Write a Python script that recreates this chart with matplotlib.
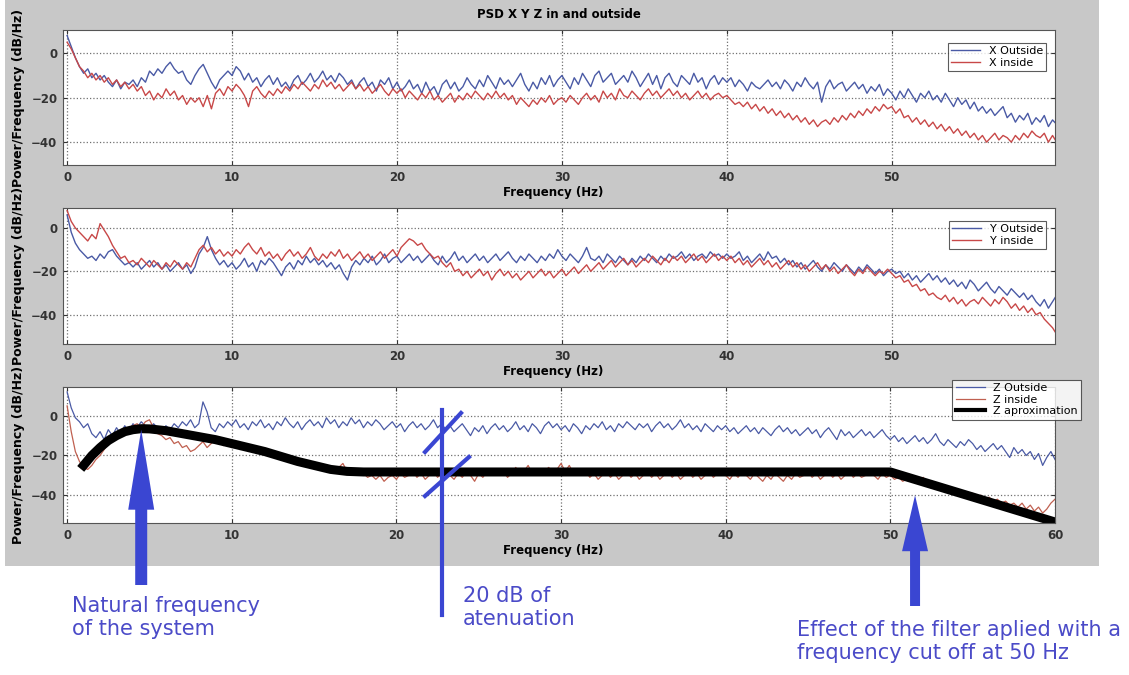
import numpy as np
import matplotlib.pyplot as plt
from matplotlib.patches import Rectangle, FancyArrow

# frequency grid of the PSD estimates (Hz)
freq = np.linspace(0, 60, 241)

x_outside = [
    8, 3, -2, -6, -9, -7, -11, -9, -12, -10, -13, -15, -12, -16, -13, -14, -12, -15, -11, -13,
    -8, -10, -7, -9, -6, -4, -7, -9, -8, -12, -14, -10, -7, -5, -9, -13, -16, -12, -10, -8,
    -10, -6, -8, -12, -9, -13, -11, -15, -12, -10, -14, -11, -15, -13, -16, -12, -10, -14, -12, -9,
    -13, -11, -8, -12, -10, -13, -9, -11, -14, -12, -16, -13, -11, -15, -13, -17, -12, -14, -11, -16,
    -13, -17, -15, -12, -16, -14, -18, -13, -17, -15, -19, -14, -12, -16, -13, -17, -15, -11, -14, -16,
    -12, -15, -10, -13, -16, -11, -14, -12, -15, -12, -9, -14, -17, -13, -16, -11, -14, -10, -15, -12,
    -10, -13, -16, -11, -14, -9, -12, -15, -10, -8, -13, -11, -9, -14, -12, -10, -13, -8, -11, -15,
    -12, -9, -14, -10, -16, -11, -9, -13, -15, -10, -12, -14, -9, -13, -11, -16, -12, -10, -14, -11,
    -13, -11, -15, -12, -14, -17, -13, -15, -16, -14, -12, -15, -13, -16, -12, -14, -17, -13, -15, -11,
    -14, -16, -13, -22, -15, -12, -16, -14, -13, -17, -15, -13, -16, -14, -18, -15, -17, -14, -19, -16,
    -18, -21, -17, -20, -16, -19, -22, -18, -20, -17, -21, -19, -22, -18, -21, -24, -20, -23, -21, -25,
    -22, -26, -24, -27, -25, -28, -26, -24, -29, -27, -31, -28, -30, -27, -32, -29, -31, -28, -33, -30,
    -32,
]
x_inside = [
    5, 2, -2, -6, -8, -11, -9, -12, -10, -13, -11, -14, -12, -15, -13, -16, -14, -17, -15, -19,
    -17, -21, -18, -20, -16, -19, -17, -21, -19, -23, -20, -22, -20, -24, -19, -25, -18, -16, -19, -15,
    -17, -14, -16, -19, -24, -17, -15, -18, -20, -17, -19, -16, -18, -15, -17, -14, -16, -13, -15, -17,
    -14, -16, -12, -15, -13, -16, -14, -17, -15, -13, -16, -14, -17, -15, -18, -16, -14, -17, -19, -16,
    -18, -16, -20, -17, -19, -21, -18, -20, -17, -21, -19, -22, -20, -18, -22, -19, -21, -18, -20, -17,
    -19, -21, -18, -20, -17, -20, -18, -21, -19, -23, -20, -22, -24, -21, -23, -20, -22, -19, -23, -21,
    -20, -22, -19, -21, -23, -20, -18, -21, -19, -22, -17, -20, -18, -21, -16, -19, -20, -17, -19, -21,
    -18, -16, -19, -17, -20, -18, -16, -19, -17, -20, -18, -21, -19, -17, -20, -18, -21, -19, -18, -20,
    -19, -21, -23, -22, -24, -22, -25, -23, -26, -24, -27, -25, -28, -26, -29, -27, -30, -28, -31, -29,
    -32, -30, -33, -31, -30, -32, -29, -31, -28, -30, -27, -29, -26, -28, -25, -27, -24, -26, -23, -25,
    -24, -27, -25, -29, -28, -31, -29, -32, -30, -33, -31, -34, -32, -35, -33, -36, -34, -37, -35, -38,
    -36, -39, -37, -40, -38, -36, -39, -37, -38, -40, -37, -39, -36, -38, -35, -37, -38, -36, -40, -37,
    -40,
]
y_outside = [
    6, -2, -7, -10, -12, -14, -13, -15, -12, -14, -11, -10, -13, -15, -17, -16, -18, -16, -19, -17,
    -15, -18, -16, -19, -17, -20, -18, -16, -19, -17, -21, -18, -12, -9, -4, -10, -14, -17, -15, -18,
    -16, -19, -17, -14, -18, -16, -20, -15, -17, -14, -16, -19, -22, -18, -16, -19, -15, -17, -13, -16,
    -14, -17, -15, -18, -16, -19, -17, -21, -24, -18, -15, -17, -14, -16, -13, -17, -15, -12, -16, -14,
    -13, -16, -14, -12, -15, -13, -16, -14, -12, -15, -17, -13, -16, -14, -11, -15, -13, -16, -14, -12,
    -15, -13, -16, -14, -12, -15, -13, -11, -14, -16, -13, -15, -12, -14, -16, -13, -15, -12, -14, -10,
    -13, -15, -12, -14, -16, -13, -9, -14, -15, -13, -16, -12, -14, -16, -13, -15, -17, -14, -16, -13,
    -15, -12, -14, -16, -13, -15, -12, -14, -13, -11, -14, -12, -15, -13, -12, -14, -11, -13, -12, -14,
    -12, -14, -13, -11, -15, -13, -16, -14, -12, -15, -11, -14, -13, -16, -14, -17, -15, -18, -16, -19,
    -17, -15, -18, -20, -17, -19, -16, -18, -20, -17, -19, -21, -18, -20, -17, -19, -21, -19, -22, -20,
    -19, -21, -20, -23, -21, -24, -22, -25, -23, -21, -24, -22, -25, -23, -26, -24, -27, -25, -28, -24,
    -26, -29, -27, -25, -28, -30, -27, -29, -31, -28, -30, -32, -30, -33, -31, -34, -36, -33, -37, -34,
    -31,
]
y_inside = [
    8, 3, 0, -2, -4, -6, -3, -5, 2, -1, -4, -8, -11, -14, -13, -16, -15, -17, -14, -16,
    -18, -15, -17, -19, -16, -18, -15, -17, -19, -16, -18, -14, -10, -8, -11, -9, -12, -10, -13, -11,
    -13, -10, -12, -9, -7, -10, -12, -9, -13, -11, -14, -12, -15, -12, -10, -13, -11, -14, -12, -9,
    -13, -15, -12, -14, -11, -13, -10, -14, -12, -15, -13, -11, -14, -12, -15, -13, -11, -14, -12, -10,
    -13, -9, -7, -5, -6, -8, -7, -10, -12, -14, -13, -16, -18, -16, -20, -19, -22, -20, -23, -21,
    -19, -22, -20, -24, -21, -19, -22, -20, -23, -21, -24, -22, -20, -23, -21, -19, -22, -20, -23, -21,
    -19, -22, -20, -18, -21, -19, -17, -20, -18, -16, -19, -17, -15, -18, -16, -14, -17, -15, -18, -16,
    -14, -16, -13, -15, -17, -14, -16, -13, -15, -13, -16, -14, -12, -15, -13, -16, -14, -12, -15, -13,
    -15, -13, -16, -14, -17, -15, -18, -16, -14, -17, -15, -18, -16, -19, -17, -15, -18, -16, -19, -17,
    -20, -18, -16, -19, -17, -20, -18, -21, -19, -17, -20, -22, -19, -21, -18, -20, -22, -20, -21, -19,
    -21, -23, -22, -25, -24, -27, -26, -29, -28, -31, -30, -32, -33, -31, -34, -32, -35, -33, -36, -34,
    -33, -35, -32, -34, -36, -33, -35, -32, -34, -37, -35, -38, -36, -39, -37, -40, -39, -42, -44, -46,
    -49,
]
z_outside = [
    12, 4, -1, -3, -6, -4, -9, -11, -8, -12, -7, -10, -6, -9, -5, -8, -4, -6, -3, -5,
    -7, -4, -6, -8, -5, -7, -4, -6, -3, -5, -2, -6, -4, 7, 2, -6, -8, -4, -6, -3,
    -5, -2, -6, -4, -7, -3, -5, -2, -6, -4, -7, -3, -5, -1, -4, -6, -3, -7, -4, -2,
    -5, -3, -6, -1, -4, -2, -6, -3, -5, -1, -4, -2, -6, -3, -5, -2, -4, -7, -5, -3,
    -6, -4, -8, -5, -3, -6, -4, -7, -5, -2, -6, -4, -7, -5, -8, -6, -4, -7, -10, -6,
    -8, -5, -9, -6, -4, -7, -5, -8, -6, -3, -7, -5, -8, -4, -6, -9, -5, -3, -6, -4,
    -7, -5, -8, -4, -6, -9, -5, -7, -4, -6, -3, -7, -5, -8, -4, -6, -3, -5, -7, -4,
    -6, -4, -8, -5, -3, -6, -4, -7, -5, -2, -6, -4, -7, -5, -8, -4, -6, -8, -5, -7,
    -5, -8, -6, -9, -7, -5, -8, -6, -9, -6, -8, -10, -7, -5, -8, -6, -9, -7, -10, -8,
    -6, -9, -7, -11, -8, -6, -9, -12, -7, -10, -8, -11, -9, -7, -10, -8, -11, -9, -7, -10,
    -12, -10, -13, -11, -14, -12, -10, -13, -11, -14, -12, -9, -13, -15, -12, -14, -16, -13, -15, -12,
    -14, -17, -15, -18, -16, -14, -17, -15, -18, -21, -16, -19, -17, -20, -18, -22, -19, -25, -21, -18,
    -22,
]
z_inside = [
    5, -8, -18, -23, -26, -27, -25, -22, -20, -17, -14, -12, -10, -8, -7, -6, -5, -4, -6, -3,
    -2, -6, -9, -10, -12, -11, -14, -13, -16, -15, -18, -17, -15, -13, -16, -14, -12, -13, -15, -14,
    -16, -14, -17, -15, -18, -16, -17, -19, -18, -20, -19, -21, -20, -22, -21, -23, -22, -24, -23, -25,
    -24, -26, -25, -27, -26, -28, -26, -24, -28, -27, -29, -30, -29, -31, -30, -32, -30, -33, -31, -30,
    -32, -29, -31, -30, -28, -31, -29, -32, -30, -28, -31, -29, -27, -30, -32, -29, -31, -28, -30, -33,
    -29, -31, -28, -30, -27, -30, -28, -31, -29, -26, -30, -28, -25, -29, -27, -30, -28, -26, -29, -27,
    -24, -28, -25, -29, -27, -30, -28, -31, -29, -32, -30, -28, -31, -29, -32, -30, -28, -31, -29, -32,
    -30, -28, -31, -29, -32, -30, -28, -31, -29, -32, -30, -28, -31, -29, -32, -30, -28, -31, -29, -27,
    -30, -32, -29, -31, -28, -30, -32, -29, -31, -33, -30, -32, -29, -31, -33, -30, -32, -29, -31, -30,
    -28, -31, -29, -32, -30, -28, -31, -29, -32, -30, -28, -31, -29, -31, -30, -28, -30, -32, -29, -31,
    -30, -32, -31, -33, -32, -30, -34, -33, -31, -35, -34, -36, -35, -37, -36, -38, -37, -39, -38, -40,
    -39, -41, -40, -42, -41, -43, -42, -44, -43, -45, -44, -46, -44, -47, -45, -48, -46, -49, -47, -44,
    -42,
]

# hand drawn "Z aproximation" curve
approx_freq = [1, 1.5, 2, 2.5, 3, 3.5, 4, 4.5, 5, 6, 7, 8, 9, 10, 11, 12, 13, 14, 15, 16, 17, 18, 50, 60]
approx_db = [-25, -20, -16, -12.5, -10, -8, -7, -6.5, -6.6, -7.5, -9, -10.5, -12, -14, -16, -18,
             -20.5, -23, -25, -27, -28, -28.3, -28.3, -53.5]

W, H = 1129, 675
blue = '#4a5aa5'
red = '#c84848'
ann = '#3a46d2'

fig = plt.figure(figsize=(W / 100, H / 100), dpi=100)
fig.add_artist(Rectangle((5 / W, 1 - 566 / H), 1094 / W, 566 / H, transform=fig.transFigure,
                         facecolor='#c8c8c8', edgecolor='none', zorder=-5))

def px_axes(top, bottom, left=63, right=1055):
    return fig.add_axes([left / W, 1 - bottom / H, (right - left) / W, (bottom - top) / H])

ax1 = px_axes(30, 165)
ax2 = px_axes(208, 344)
ax3 = px_axes(387, 523)

ax1.plot(freq, x_outside, color=blue, lw=1.0, label='X Outside')
ax1.plot(freq, x_inside, color=red, lw=1.0, label='X inside')
ax2.plot(freq, y_outside, color=blue, lw=1.0, label='Y Outside')
ax2.plot(freq, y_inside, color=red, lw=1.0, label='Y inside')
ax3.plot(freq, z_outside, color=blue, lw=0.9, label='Z Outside')
ax3.plot(freq, z_inside, color='#c06050', lw=0.9, label='Z inside')
ax3.plot(approx_freq, approx_db, color='black', lw=6.5, solid_joinstyle='round', label='Z aproximation')

ax1.set_xlim(-0.25, 59.9)
ax1.set_ylim(-50.3, 10.5)
ax2.set_xlim(-0.25, 59.9)
ax2.set_ylim(-53.5, 9.2)
ax3.set_xlim(-0.25, 60)
ax3.set_ylim(-54, 14.5)

for ax in (ax1, ax2, ax3):
    ax.set_xticks([0, 10, 20, 30, 40, 50] if ax is not ax3 else [0, 10, 20, 30, 40, 50, 60])
    ax.set_yticks([-40, -20, 0])
    ax.grid(True, linestyle=':', color='#707070', lw=0.9)
    ax.tick_params(direction='in', length=3, labelsize=8.5, pad=4, top=True, right=True, colors='#333333')
    for lab in ax.get_xticklabels() + ax.get_yticklabels():
        lab.set_fontweight('bold')
    for s in ax.spines.values():
        s.set_color('#555555')
        s.set_linewidth(0.8)
    ax.set_xlabel('Frequency (Hz)', fontsize=8.5, fontweight='bold')
    ax.xaxis.set_label_coords(0.494, -0.155)
    ax.set_ylabel('Power/Frequency (dB/Hz)', fontsize=9, fontweight='bold')
    ax.yaxis.set_label_coords(-0.038, 0.5)

ax1.set_title('PSD X Y Z in and outside', fontsize=8.5, fontweight='bold', pad=9)

leg_kw = dict(fontsize=8, frameon=True, fancybox=False, edgecolor='#333333', handlelength=2.6,
              borderpad=0.3, labelspacing=0.15, loc='upper right', bbox_transform=fig.transFigure)
l1 = ax1.legend(bbox_to_anchor=(1052 / W, 1 - 37 / H), **leg_kw)
l2 = ax2.legend(bbox_to_anchor=(1052 / W, 1 - 215 / H), **leg_kw)
l3 = ax3.legend(bbox_to_anchor=(1087 / W, 1 - 374 / H), **leg_kw)
for lg in (l1, l2, l3):
    lg.get_frame().set_linewidth(0.8)
l3.get_lines()[2].set_linewidth(3)

# annotation layer in pixel units
ov = fig.add_axes([0, 0, 1, 1], zorder=10)
ov.set_xlim(0, W)
ov.set_ylim(H, 0)
ov.axis('off')
ov.patch.set_alpha(0)

fig.canvas.draw()
def to_px(ax, x, y):
    p = ax.transData.transform((x, y))
    return ov.transData.inverted().transform(p)

tx, ty = to_px(ax3, 4.5, -7)
ov.add_patch(FancyArrow(tx, 585, 0, ty - 585, width=12, head_width=26, head_length=80,
                        length_includes_head=True, color=ann, lw=0))
tx, ty = to_px(ax3, 51.5, -40)
ov.add_patch(FancyArrow(tx, 606, 0, ty - 606, width=10, head_width=26, head_length=56,
                        length_includes_head=True, color=ann, lw=0))

vx, _ = to_px(ax3, 22.75, 0)
ov.plot([vx, vx], [410, 615], color=ann, lw=3)
ov.plot([425, 461], [452, 413], color=ann, lw=3)
ov.plot([425, 469], [496, 457], color=ann, lw=3)

txt_kw = dict(fontsize=15, color='#4b4bc8', va='top', ha='left', linespacing=1.2,
              family=['Liberation Sans Narrow', 'DejaVu Sans'])
ov.text(72, 596, 'Natural frequency\nof the system', **txt_kw)
ov.text(463, 586, '20 dB of\natenuation', **txt_kw)
ov.text(797, 620, 'Effect of the filter aplied with a\nfrequency cut off at 50 Hz', **txt_kw)

fig.savefig('out.png', dpi=100)
